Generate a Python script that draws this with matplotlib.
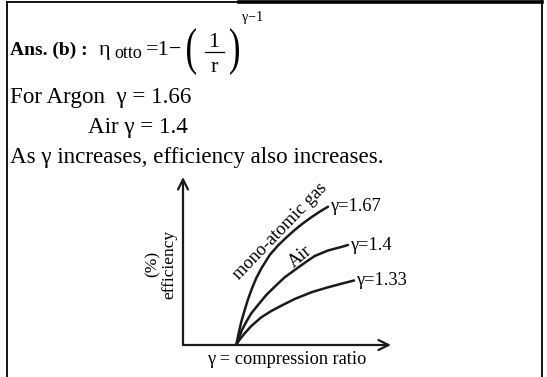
import matplotlib.pyplot as plt
import matplotlib.transforms as mtransforms
from matplotlib.textpath import TextPath
from matplotlib.patches import PathPatch
from matplotlib.font_manager import FontProperties

plt.rcParams['font.family'] = ['Liberation Serif', 'DejaVu Serif']

# efficiency curves (arbitrary units, origin at the axis corner)
curve_labels = ['γ=1.67', 'γ=1.4', 'γ=1.33']
r_167 = [5.33, 5.43, 5.6, 5.83, 6.17, 6.5, 6.9, 7.33, 7.83, 8.67, 9.5,
         10.33, 11.17, 12.0, 12.83, 13.67, 14.5]
eff_167 = [0, 0.5, 1.33, 2.33, 3.5, 4.57, 5.67, 6.7, 7.65, 9.0, 9.95,
           10.75, 11.5, 12.17, 12.77, 13.33, 13.83]
r_14 = [5.33, 5.57, 5.9, 6.33, 6.83, 7.5, 8.33, 9.17, 10.17, 11.17, 12.33,
        13.17, 14.5, 16.0, 16.5]
eff_14 = [0, 0.67, 1.5, 2.33, 3.17, 4.0, 5.0, 5.83, 6.77, 7.5, 8.33,
          8.9, 9.45, 9.85, 10.0]
r_133 = [5.33, 5.5, 5.67, 6.17, 6.83, 7.83, 8.83, 9.83, 11.17, 12.83, 14.5, 16.0, 17.1]
eff_133 = [0, 0.3, 0.55, 1.17, 1.9, 2.77, 3.4, 3.93, 4.6, 5.27, 5.77, 6.17, 6.45]

W, H = 547, 377
fig = plt.figure(figsize=(W / 100, H / 100), dpi=100)

# page layer in pixel units
bg = fig.add_axes([0, 0, 1, 1])
bg.set_xlim(0, W)
bg.set_ylim(H, 0)
bg.axis('off')

# box lines
bg.plot([6.5, 6.5], [2, H], color='black', lw=1.3)
bg.plot([6.5, 541.5], [2, 2], color='black', lw=1.3)
bg.plot([239, 541.5], [1.5, 1.5], color='black', lw=2.6)
bg.plot([541.5, 541.5], [0, H], color='black', lw=1.3)

serif = FontProperties(family='Liberation Serif')


def stretched_glyph(ch, x0, x1, y0, y1):
    # tall thin bracket, like an equation editor's stretched parenthesis
    tp = TextPath((0, 0), ch, size=1, prop=serif)
    ext = tp.get_extents()
    t = (mtransforms.Affine2D().translate(-ext.x0, -ext.y0)
         .scale((x1 - x0) / ext.width, -(y1 - y0) / ext.height)
         .translate(x0, y1))
    bg.add_patch(PathPatch(t.transform_path(tp), facecolor='black', lw=0))


fs = 16.6
bg.text(10, 55, 'Ans. (b) :', fontsize=14, fontweight='bold', va='baseline')
bg.text(99, 55, 'η', fontsize=16, va='baseline')
bg.text(114, 58, 'otto', fontsize=13, va='baseline')
bg.text(146, 55, '=1−', fontsize=16, va='baseline')
stretched_glyph('(', 187, 196, 28, 75)
stretched_glyph(')', 230, 239, 28, 75)
bg.text(214, 47, '1', fontsize=16, va='baseline', ha='center')
bg.plot([205, 224], [52, 52], color='black', lw=0.9)
bg.text(214, 72, 'r', fontsize=16, va='baseline', ha='center')
bg.text(242, 21, 'γ−1', fontsize=10, va='baseline')

bg.text(10, 103, 'For Argon  γ = 1.66', fontsize=fs, va='baseline')
bg.text(88, 133, 'Air γ = 1.4', fontsize=fs, va='baseline')
bg.text(10, 163, 'As γ increases, efficiency also increases.', fontsize=fs, va='baseline')

# diagram
ax = fig.add_axes([183 / W, (H - 345) / H, (395 - 183) / W, (345 - 172) / H])
ax.set_xlim(0, 21.2)
ax.set_ylim(0, 17.3)
ax.axis('off')

arrow = dict(arrowstyle='->', color='#1a1a1a', lw=1.6, mutation_scale=18,
             shrinkA=0, shrinkB=0)
ax.annotate('', xy=(20.8, 0), xytext=(0, 0), arrowprops=arrow)
ax.annotate('', xy=(0, 16.8), xytext=(0, 0), arrowprops=arrow)

curves = [(r_167, eff_167), (r_14, eff_14), (r_133, eff_133)]
for (r, eff), lab in zip(curves, curve_labels):
    ax.plot(r, eff, color='#1a1a1a', lw=1.8, solid_capstyle='round',
            solid_joinstyle='round')
    ax.text(r[-1] + 0.2, eff[-1], lab, fontsize=13.2, va='center', ha='left')

bg.text(280, 231, 'mono-atomic gas', fontsize=13.2, rotation=46,
        ha='center', va='center', rotation_mode='anchor')
bg.text(300, 257, 'Air', fontsize=13.2, rotation=40,
        ha='center', va='center', rotation_mode='anchor')
bg.text(161, 264, '(%)\nefficiency', fontsize=12.5, rotation=90,
        ha='center', va='center', multialignment='center', linespacing=1.0)
bg.text(287, 360, 'γ = compression ratio', fontsize=13.2, ha='center', va='center')

fig.savefig('out.png', dpi=100)
